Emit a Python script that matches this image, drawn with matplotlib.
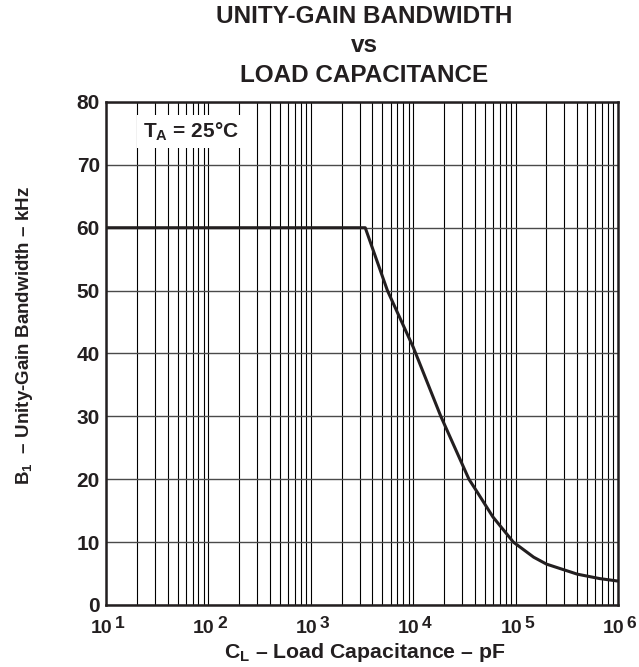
import numpy as np
import matplotlib
matplotlib.use("Agg")
import matplotlib.pyplot as plt
from matplotlib.ticker import FixedLocator, LogLocator, NullFormatter
from matplotlib.transforms import blended_transform_factory, offset_copy

plt.rcParams['font.family'] = ['Liberation Sans', 'DejaVu Sans']
plt.rcParams['font.weight'] = 'bold'
plt.rcParams['mathtext.fontset'] = 'custom'
plt.rcParams['mathtext.rm'] = 'Liberation Sans:bold'
plt.rcParams['mathtext.bf'] = 'Liberation Sans:bold'
plt.rcParams['mathtext.it'] = 'Liberation Sans:bold'

# data
cap_pf = [10, 3400, 5600, 10000, 18600, 35000, 42000, 60000, 95000,
          150000, 200000, 400000, 660000, 1000000]
bw_khz = [60, 60, 50, 41, 30, 20, 18, 14, 10,
          7.6, 6.5, 4.9, 4.2, 3.8]

y_ticks = [0, 10, 20, 30, 40, 50, 60, 70, 80]
x_ticks = [1e1, 1e2, 1e3, 1e4, 1e5, 1e6]
x_exponents = ['1', '2', '3', '4', '5', '6']

ink = '#231f20'
H = 667

fig = plt.figure(figsize=(6.39, 6.67), dpi=100)
ax = fig.add_axes([0.1659, 0.0930, 0.8013, 0.7541])

ax.plot(cap_pf, bw_khz, color=ink, linewidth=2.2, zorder=4,
        solid_capstyle='butt')

ax.set_xscale('log')
ax.set_xlim(10, 1e6)
ax.set_ylim(0, 80)
ax.xaxis.set_major_locator(FixedLocator(x_ticks))
ax.xaxis.set_minor_locator(LogLocator(base=10, subs=np.arange(2, 10)))
ax.xaxis.set_minor_formatter(NullFormatter())
ax.set_xticklabels([])
ax.set_yticks(y_ticks)
ax.tick_params(which='both', length=0, labelsize=15, pad=4.5,
               labelcolor=ink)

# x tick labels drawn by hand so the exponent sits high and large like the original
# axis bottom is at pixel 605; "10" baseline ~633, exponent baseline ~628
trans = blended_transform_factory(ax.transData, ax.transAxes)
for xt, ex in zip(x_ticks, x_exponents):
    ax.text(xt, 0, '10', transform=offset_copy(trans, fig=fig, x=-4.5, y=-28, units='dots'),
            ha='center', va='baseline', fontsize=14, fontweight='bold', color=ink,
            clip_on=False)
    ax.text(xt, 0, ex, transform=offset_copy(trans, fig=fig, x=8.5, y=-23, units='dots'),
            ha='left', va='baseline', fontsize=12.5, fontweight='bold', color=ink,
            clip_on=False)

ax.grid(which='both', axis='x', color='black', linewidth=0.8)
ax.grid(which='major', axis='y', color='#4a4a4a', linewidth=1.0)
ax.set_axisbelow(True)
for s in ax.spines.values():
    s.set_linewidth(1.8)
    s.set_color(ink)

fig.text(365 / 639, 1 - 658 / H, r'$\mathbf{C_L}$ – Load Capacitance – pF',
         fontsize=15.3, fontweight='bold', ha='center', va='baseline', color=ink)
fig.text(25 / 639, 1 - 336 / H, r'$\mathbf{B_1}$  – Unity-Gain Bandwidth – kHz',
         fontsize=13.5, fontweight='bold', ha='center', va='center',
         rotation=90, color=ink)

ax.text(67.6, 75.3, r'$\mathbf{T_A}$ = 25°C', fontsize=15, fontweight='bold',
        ha='center', va='center', zorder=5, color=ink,
        bbox=dict(facecolor='white', edgecolor='none', pad=4))

title_lines = ['UNITY-GAIN BANDWIDTH', 'vs', 'LOAD CAPACITANCE']
title_base = [22.7, 51.5, 82]
for line, yp in zip(title_lines, title_base):
    fig.text(364 / 639, 1 - yp / H, line, ha='center', va='baseline',
             fontsize=17.5, fontweight='bold', color=ink)

fig.savefig('out.png', dpi=100)
